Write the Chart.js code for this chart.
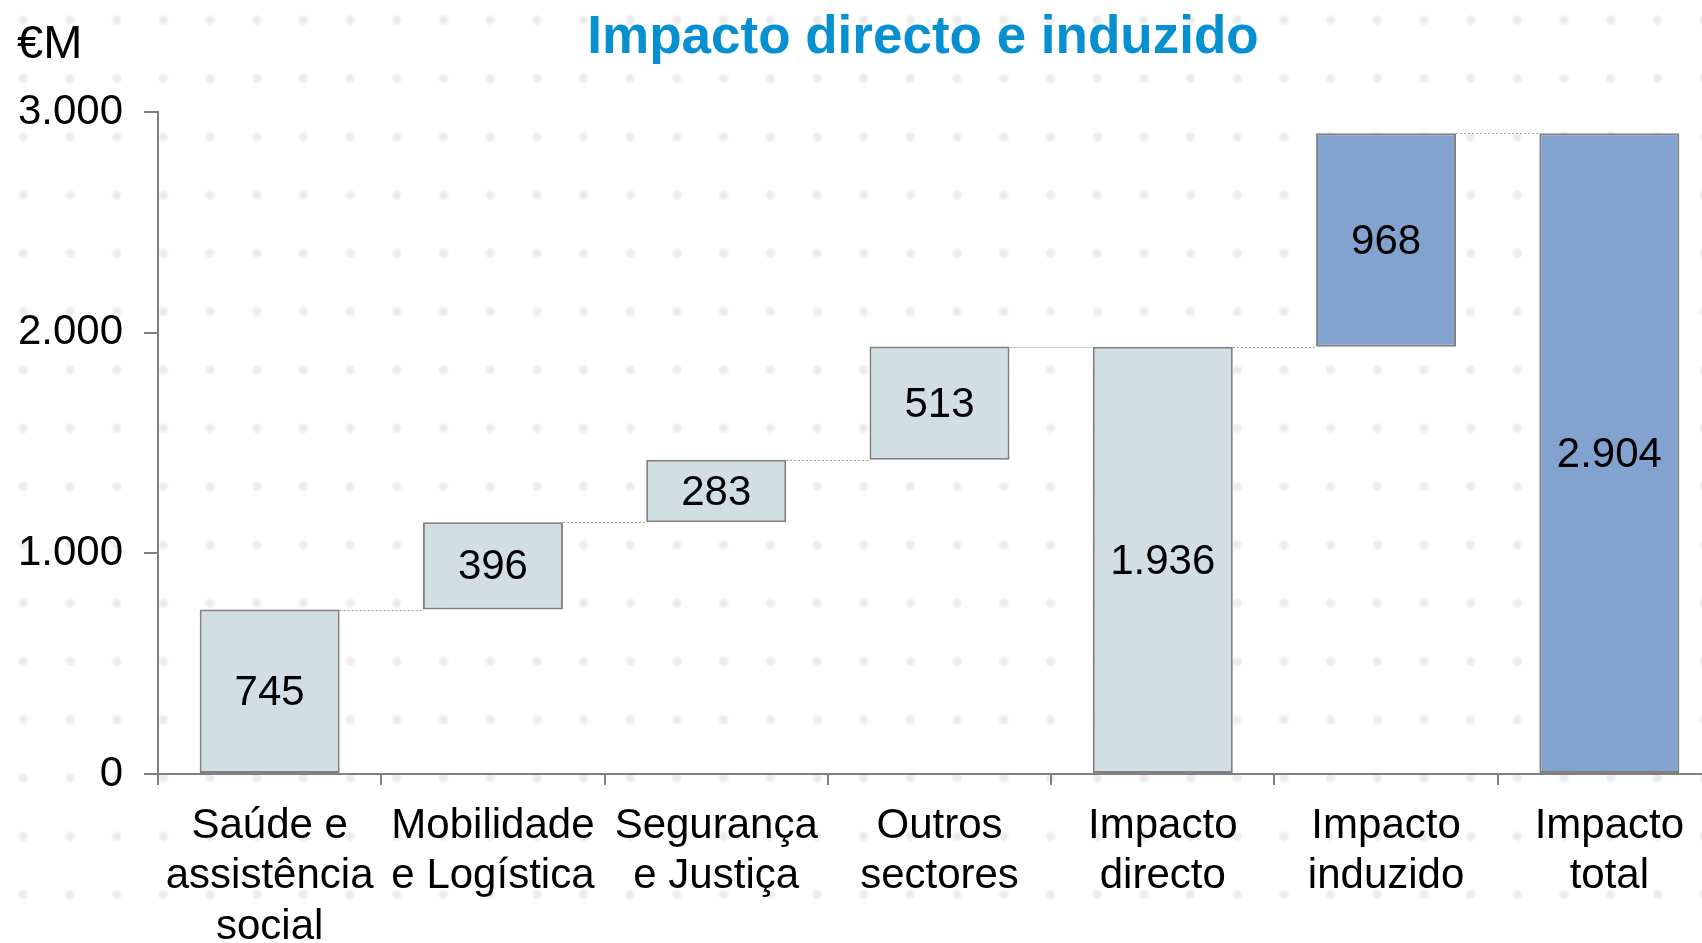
<!DOCTYPE html>
<html>
<head>
<meta charset="utf-8">
<script src="https://cdn.jsdelivr.net/npm/chart.js@4/dist/chart.umd.min.js"></script>
<style>
    html, body {
        margin: 0;
        padding: 0;
        overflow: hidden;
        background-color: #ffffff;
    }
    #wrap {
        width: 1702px;
        height: 943px;
        overflow: hidden;
        background-image: radial-gradient(circle, #ebebeb 2px, #efefef 3.5px, rgba(255,255,255,0) 6px);
        background-size: 46.7px 58.3px;
        background-position: 0px -9px;
    }
    #box {
        width: 1722px;
        height: 943px;
    }
</style>
</head>
<body>
<div id="wrap"><div id="box"><canvas id="impact-graph"></canvas></div></div>
<script>
const categories = [
    ['Saúde e', 'assistência', 'social'],
    ['Mobilidade', 'e Logística'],
    ['Segurança', 'e Justiça'],
    ['Outros', 'sectores'],
    ['Impacto', 'directo'],
    ['Impacto', 'induzido'],
    ['Impacto', 'total']
];
const sectorValues = [745, 396, 283, 513];
const directTotal = 1936;
const inducedValue = 968;
const grandTotal = 2904;
const yTicks = [0, 1000, 2000, 3000];

const lightBar = '#d1dee4';
const blueBar = '#82a2cf';
const FONT = 'Liberation Sans, Arial, sans-serif';

const fmt = (v) => String(v).replace(/\B(?=(\d{3})+(?!\d))/g, '.');

// floating bars: [start, end]
let running = 0;
const ranges = sectorValues.map((v) => {
    const r = [running, running + v];
    running += v;
    return r;
});
ranges.push([0, directTotal]);
ranges.push([directTotal, directTotal + inducedValue]);
ranges.push([0, grandTotal]);

const labelValues = [...sectorValues, directTotal, inducedValue, grandTotal];
const colors = [lightBar, lightBar, lightBar, lightBar, lightBar, blueBar, blueBar];

const waterfallExtras = {
    id: 'waterfallExtras',
    afterDatasetsDraw(chart) {
        const ctx = chart.ctx;
        const y = chart.scales.y;
        const bars = chart.getDatasetMeta(0).data;

        // dotted connectors
        ctx.save();
        ctx.strokeStyle = '#a0a0a0';
        ctx.lineWidth = 1;
        ctx.setLineDash([2, 2]);
        for (let i = 0; i < bars.length - 1; i++) {
            const level = i === 4 ? ranges[5][0] : ranges[i][1];
            const py = Math.round(y.getPixelForValue(level)) + 0.5;
            const x1 = bars[i].x + bars[i].width / 2;
            const x2 = bars[i + 1].x - bars[i + 1].width / 2;
            ctx.beginPath();
            ctx.moveTo(x1, py);
            ctx.lineTo(x2, py);
            ctx.stroke();
        }
        ctx.restore();

        // values inside bars
        ctx.save();
        ctx.fillStyle = '#000000';
        ctx.font = '42px ' + FONT;
        ctx.textAlign = 'center';
        ctx.textBaseline = 'middle';
        bars.forEach((bar, i) => {
            const mid = y.getPixelForValue((ranges[i][0] + ranges[i][1]) / 2);
            ctx.fillText(fmt(labelValues[i]), bar.x, mid + 2);
        });
        ctx.restore();

        // title and unit
        ctx.save();
        ctx.textBaseline = 'alphabetic';
        ctx.textAlign = 'center';
        ctx.fillStyle = '#0690d0';
        ctx.font = 'bold 53px ' + FONT;
        ctx.fillText('Impacto directo e induzido', 923, 53);
        ctx.textAlign = 'left';
        ctx.fillStyle = '#000000';
        ctx.font = '47px ' + FONT;
        ctx.fillText('€M', 17, 58);
        ctx.restore();
    }
};

new Chart(document.getElementById('impact-graph'), {
    type: 'bar',
    data: {
        labels: categories,
        datasets: [{
            data: ranges,
            backgroundColor: colors,
            borderColor: '#808080',
            borderWidth: 2,
            borderSkipped: false,
            barPercentage: 0.627,
            categoryPercentage: 1
        }]
    },
    options: {
        responsive: true,
        maintainAspectRatio: false,
        animation: false,
        layout: {
            padding: { top: 112, right: 1, left: 0, bottom: 0 }
        },
        scales: {
            y: {
                min: 0,
                max: 3000,
                afterBuildTicks: (scale) => {
                    scale.ticks = yTicks.map((v) => ({ value: v }));
                },
                afterFit: (scale) => { scale.width = 158; },
                ticks: {
                    color: '#000000',
                    font: { family: FONT, size: 42 },
                    padding: 21,
                    callback: (v) => fmt(v)
                },
                grid: {
                    drawOnChartArea: false,
                    color: '#808080',
                    lineWidth: 2,
                    tickLength: 14
                },
                border: { color: '#808080', width: 2 }
            },
            x: {
                afterFit: (scale) => { scale.height = 169; },
                ticks: {
                    color: '#000000',
                    font: { family: FONT, size: 42, lineHeight: 1.2 },
                    padding: 16,
                    maxRotation: 0,
                    autoSkip: false
                },
                grid: {
                    drawOnChartArea: false,
                    color: '#808080',
                    lineWidth: 2,
                    tickLength: 11
                },
                border: { color: '#808080', width: 2 }
            }
        },
        plugins: {
            legend: { display: false },
            tooltip: { enabled: false }
        }
    },
    plugins: [waterfallExtras]
});
</script>
</body>
</html>
